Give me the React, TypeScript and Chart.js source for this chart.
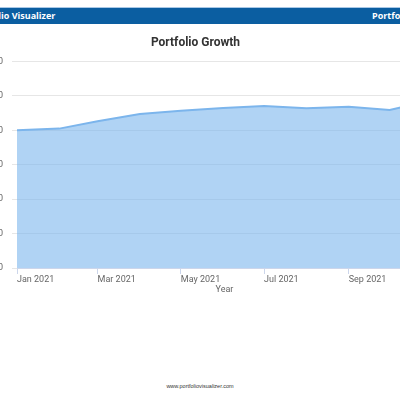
import React, { useEffect, useRef } from "react";
import { Chart, registerables } from "chart.js";

Chart.register(...registerables);

// Monthly observation dates and portfolio balance (USD)
const pointDates = [
  "2021-01-01", "2021-02-01", "2021-03-01", "2021-04-01", "2021-05-01", "2021-06-01",
  "2021-07-01", "2021-08-01", "2021-09-01", "2021-10-01", "2021-11-01",
];
const balances = [10000, 10120, 10650, 11180, 11420, 11620, 11760, 11590, 11710, 11470, 12180];

// x-axis tick dates and their labels
const xTickDates = ["2021-01-01", "2021-03-01", "2021-05-01", "2021-07-01", "2021-09-01"];
const xTickLabels = ["Jan 2021", "Mar 2021", "May 2021", "Jul 2021", "Sep 2021"];

// y-axis range
const yMin = 0;
const yMax = 15000;
const yStep = 2500;

const origin = Date.parse("2021-01-01T00:00:00Z");
const dayOf = (d: string) => Math.round((Date.parse(d + "T00:00:00Z") - origin) / 86400000);

export default function App() {
  const ref = useRef<HTMLCanvasElement | null>(null);

  useEffect(() => {
    if (!ref.current) return;
    const pts = pointDates.map((d, i) => ({ x: dayOf(d), y: balances[i] }));
    const tickDays = xTickDates.map(dayOf);
    const chart = new Chart(ref.current, {
      type: "line",
      data: {
        datasets: [
          {
            label: "Portfolio",
            data: pts,
            borderColor: "#7cb5ec",
            borderWidth: 2,
            backgroundColor: "rgba(124,181,236,0.6)",
            fill: "origin",
            pointRadius: 0,
            tension: 0,
          },
        ],
      },
      options: {
        animation: false,
        responsive: false,
        maintainAspectRatio: false,
        layout: { padding: { top: 0, bottom: 6, left: 0, right: 0 } },
        plugins: {
          legend: { display: false },
          tooltip: { enabled: false },
          title: {
            display: true,
            text: "Portfolio Growth",
            color: "#333333",
            font: { family: "Roboto", size: 12, weight: "bold", lineHeight: 1.2 },
            padding: { top: 8, bottom: 11 },
          },
        },
        scales: {
          x: {
            type: "linear",
            min: dayOf(pointDates[0]),
            max: dayOf(pointDates[pointDates.length - 1]),
            afterBuildTicks: (scale: any) => {
              scale.ticks = tickDays.map((v) => ({ value: v }));
            },
            ticks: {
              autoSkip: false,
              maxRotation: 0,
              align: "start",
              padding: 1,
              color: "#666666",
              font: { family: "Roboto", size: 9, lineHeight: 1 },
              callback: (v: any) => {
                const i = tickDays.indexOf(Number(v));
                return i >= 0 ? xTickLabels[i] : null;
              },
            },
            grid: {
              drawOnChartArea: false,
              drawTicks: true,
              tickLength: 6,
              color: "#ccd6eb",
            },
            border: { display: true, color: "#ccd6eb", width: 1 },
            title: {
              display: true,
              text: "Year",
              color: "#666666",
              font: { family: "Roboto", size: 9, lineHeight: 1 },
              padding: { top: 0, bottom: 0 },
            },
          },
          y: {
            min: yMin,
            max: yMax,
            afterFit: (scale: any) => {
              scale.width = 58;
            },
            ticks: {
              stepSize: yStep,
              padding: 9,
              color: "#666666",
              font: { family: "Roboto", size: 9 },
              callback: (v: any) => "$" + Number(v).toLocaleString("en-US"),
            },
            grid: { color: "#e6e6e6", drawTicks: true, tickLength: 5 },
            border: { display: false },
          },
        },
      },
    });
    return () => chart.destroy();
  }, []);

  const headerText: React.CSSProperties = {
    position: "absolute",
    top: 0,
    lineHeight: "15px",
    fontFamily: "'Open Sans', sans-serif",
    fontWeight: 700,
    fontSize: 9,
    color: "#ffffff",
    whiteSpace: "nowrap",
  };

  return (
    <div
      style={{
        position: "fixed",
        left: 0,
        top: 0,
        width: 400,
        height: 400,
        overflow: "hidden",
        background: "#ffffff",
      }}
    >
      <div
        style={{
          position: "absolute",
          left: 0,
          top: 7,
          width: 400,
          height: 17,
          background: "#0b5ea1",
          borderTop: "1px solid #a9c8e6",
          boxSizing: "border-box",
        }}
      >
        <span style={{ ...headerText, left: -30 }}>Portfolio Visualizer</span>
        <span style={{ ...headerText, left: 372 }}>Portfolio Visualizer</span>
      </div>
      <canvas
        ref={ref}
        width={473}
        height={272}
        style={{ position: "absolute", left: -41, top: 28, width: 473, height: 272 }}
      />
      <div
        style={{
          position: "absolute",
          left: 0,
          top: 383,
          width: 400,
          textAlign: "center",
          fontFamily: "'Liberation Sans', Arial, sans-serif",
          fontSize: 5.5,
          color: "#333333",
        }}
      >
        www.portfoliovisualizer.com
      </div>
    </div>
  );
}
